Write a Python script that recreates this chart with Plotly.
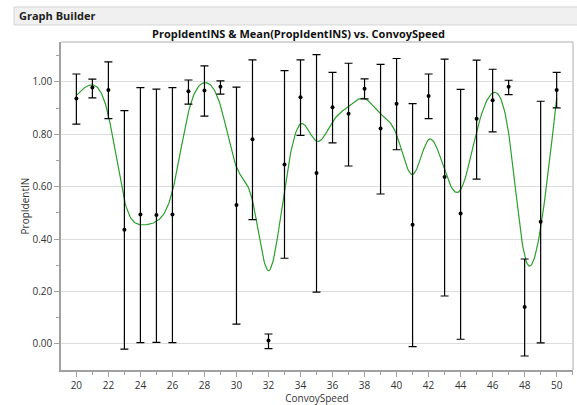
import numpy as np
import plotly.graph_objects as go

# Convoy speeds and the mean PropIdentINS with interval limits at each speed
convoy_speed = list(range(20, 51))
mean_prop = [0.936, 0.978, 0.969, 0.436, 0.494, 0.492, 0.494, 0.964, 0.967, 0.981,
             0.530, 0.781, 0.013, 0.685, 0.941, 0.652, 0.903, 0.878, 0.974, 0.822,
             0.916, 0.455, 0.946, 0.637, 0.498, 0.859, 0.930, 0.981, 0.141, 0.466,
             0.969]
upper_prop = [1.030, 1.010, 1.076, 0.890, 0.978, 0.972, 0.978, 1.007, 1.061, 1.004,
              0.980, 1.084, 0.038, 1.043, 1.084, 1.104, 1.036, 1.071, 1.011, 1.067,
              1.089, 0.917, 1.030, 1.087, 0.971, 1.083, 1.048, 1.006, 0.324, 0.926,
              1.036]
lower_prop = [0.839, 0.939, 0.860, -0.020, 0.005, 0.006, 0.005, 0.915, 0.869, 0.953,
              0.076, 0.474, -0.018, 0.327, 0.796, 0.198, 0.767, 0.679, 0.935, 0.572,
              0.741, -0.010, 0.860, 0.183, 0.018, 0.629, 0.809, 0.951, -0.046, 0.004,
              0.901]

x_ticks = list(range(20, 51, 2))
y_ticks = [0.0, 0.2, 0.4, 0.6, 0.8, 1.0]
SMOOTH_LAMBDA = 0.09


def smoothing_spline(x, y, lam, xs):
    """Cubic smoothing spline (Reinsch form) evaluated at xs."""
    x = np.asarray(x, float)
    y = np.asarray(y, float)
    n = len(x)
    h = np.diff(x)
    Q = np.zeros((n, n - 2))
    R = np.zeros((n - 2, n - 2))
    for j in range(1, n - 1):
        Q[j - 1, j - 1] = 1.0 / h[j - 1]
        Q[j, j - 1] = -1.0 / h[j - 1] - 1.0 / h[j]
        Q[j + 1, j - 1] = 1.0 / h[j]
        R[j - 1, j - 1] = (h[j - 1] + h[j]) / 3.0
        if j < n - 2:
            R[j - 1, j] = R[j, j - 1] = h[j] / 6.0
    gam = np.linalg.solve(R + lam * Q.T @ Q, Q.T @ y)
    g = y - lam * Q @ gam
    gam = np.concatenate([[0.0], gam, [0.0]])
    out = np.empty_like(xs)
    for k, t in enumerate(xs):
        i = min(max(np.searchsorted(x, t) - 1, 0), n - 2)
        hi = h[i]
        a = t - x[i]
        b = x[i + 1] - t
        out[k] = (a * g[i + 1] + b * g[i]) / hi - a * b / 6.0 * (
            (1 + a / hi) * gam[i + 1] + (1 + b / hi) * gam[i])
    return out


xs = np.linspace(convoy_speed[0], convoy_speed[-1], 600)
ys = smoothing_spline(convoy_speed, mean_prop, SMOOTH_LAMBDA, xs)

mean_arr = np.array(mean_prop)
err_plus = np.array(upper_prop) - mean_arr
err_minus = mean_arr - np.array(lower_prop)

fig = go.Figure()
fig.add_trace(go.Scatter(
    x=xs, y=ys, mode="lines",
    line=dict(color="#2ca02c", width=1.2),
    hoverinfo="skip", showlegend=False,
))
fig.add_trace(go.Scatter(
    x=convoy_speed, y=mean_prop, mode="markers",
    marker=dict(color="black", size=4),
    error_y=dict(type="data", array=err_plus, arrayminus=err_minus,
                 color="black", thickness=1.2, width=4),
    showlegend=False,
))

font_family = "Open Sans, DejaVu Sans, sans-serif"

fig.update_layout(
    width=577, height=405,
    margin=dict(l=61, r=4, t=42, b=35),
    paper_bgcolor="white", plot_bgcolor="white",
    font=dict(family=font_family, size=10, color="#333333"),
    showlegend=False,
    shapes=[
        dict(type="rect", xref="paper", yref="paper",
             x0=-47 / 512, x1=562 / 512, y0=1 + 17 / 327.5, y1=1 + 35 / 327.5,
             fillcolor="#f0f0f0", line=dict(color="#d4d4d4", width=1), layer="below"),
        dict(type="line", xref="paper", yref="paper", x0=0, x1=1, y0=1, y1=1,
             line=dict(color="#c8c8c8", width=1.5)),
        dict(type="line", xref="paper", yref="paper", x0=1, x1=1, y0=0, y1=1,
             line=dict(color="#c8c8c8", width=1.5)),
    ],
    annotations=[
        dict(text="<b>Graph Builder</b>", xref="paper", yref="paper",
             x=-44 / 512, y=1 + 26 / 327.5, xanchor="left", yanchor="middle",
             showarrow=False, font=dict(size=11, color="#222222", family=font_family)),
        dict(text="<b>PropIdentINS & Mean(PropIdentINS) vs. ConvoySpeed</b>",
             xref="paper", yref="paper", x=237 / 512, y=1 + 8 / 327.5,
             xanchor="center", yanchor="middle", showarrow=False,
             font=dict(size=11, color="#111111", family=font_family)),
    ],
)

fig.update_xaxes(
    range=[19.04, 51.02], tickvals=x_ticks, ticktext=[str(v) for v in x_ticks],
    ticks="outside", ticklen=5, tickcolor="#a0a0a0",
    minor=dict(dtick=1, tick0=19, ticks="outside", ticklen=3, tickcolor="#a0a0a0"),
    showline=True, linecolor="#a0a0a0", linewidth=1.5,
    showgrid=False, zeroline=False,
    title=dict(text="ConvoySpeed", font=dict(size=10), standoff=3),
    tickfont=dict(size=10),
)
fig.update_yaxes(
    range=[-0.0994, 1.152], tickvals=y_ticks, ticktext=[f"{v:.2f}" for v in y_ticks],
    ticks="outside", ticklen=5, tickcolor="#a0a0a0",
    minor=dict(dtick=0.1, tick0=0, ticks="outside", ticklen=3, tickcolor="#a0a0a0",
               showgrid=False),
    showline=True, linecolor="#a0a0a0", linewidth=1.5,
    showgrid=True, gridcolor="#dcdcdc", gridwidth=1, zeroline=False,
    title=dict(text="PropIdentIN", font=dict(size=10), standoff=0),
    tickfont=dict(size=10),
)

fig.write_html("out.html")
